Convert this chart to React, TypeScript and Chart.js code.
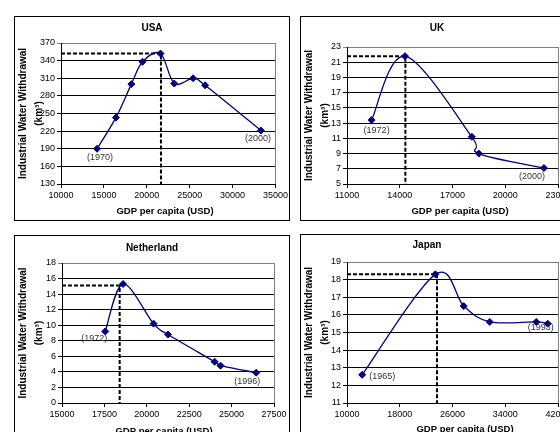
import React, { useEffect, useRef } from 'react';
import { Chart, registerables } from 'chart.js';
Chart.register(...registerables);

const FONT = '"Liberation Sans", Arial, Helvetica, sans-serif';

// ---- USA ----
const usaGdp = [14200, 16400, 18200, 19500, 21600, 23200, 25400, 26800, 33300];
const usaWater = [190, 243, 300, 338, 352, 301, 310, 298, 221];
const usaPeakGdp = 21650;
const usaPeakWater = 352;
const usaYears = ['(1970)', '(2000)'];
const usaXTicks = [10000, 15000, 20000, 25000, 30000, 35000];
const usaYTicks = [130, 160, 190, 220, 250, 280, 310, 340, 370];

// ---- UK ----
const ukGdp = [12400, 14300, 18100, 18500, 22200];
const ukWater = [13.4, 21.8, 11.2, 9.0, 7.1];
const ukPeakGdp = 14320;
const ukPeakWater = 21.8;
const ukYears = ['(1972)', '(2000)'];
const ukXTicks = [11000, 14000, 17000, 20000, 23000];
const ukYTicks = [5, 7, 9, 11, 13, 15, 17, 19, 21, 23];

// ---- Netherland ----
const nlGdp = [17550, 18600, 20400, 21250, 24000, 24350, 26450];
const nlWater = [9.2, 15.3, 10.2, 8.8, 5.3, 4.8, 3.9];
const nlPeakGdp = 18400;
const nlPeakWater = 15.1;
const nlYears = ['(1972)', '(1996)'];
const nlXTicks = [15000, 17500, 20000, 22500, 25000, 27500];
const nlYTicks = [0, 2, 4, 6, 8, 10, 12, 14, 16, 18];

// ---- Japan ----
const jpGdp = [12300, 23400, 27700, 31650, 38700, 40450];
const jpWater = [12.6, 18.3, 16.5, 15.6, 15.6, 15.5];
const jpPeakGdp = 23650;
const jpPeakWater = 18.3;
const jpYears = ['(1965)', '(1993)'];
const jpXTicks = [10000, 18000, 26000, 34000, 42000];
const jpYTicks = [11, 12, 13, 14, 15, 16, 17, 18, 19];

const Y_TITLE = 'Industrial Water Withdrawal';
const Y_UNIT = '(km³)';
const X_TITLE = 'GDP per capita (USD)';

type Spec = {
  title: string;
  left: number; top: number;
  yW: number; padTop: number; padRight: number; xH: number;
  titleX: number; titleY: number; xTitleX: number; xTitleY: number;
  gdp: number[]; water: number[]; peakGdp: number; peakWater: number;
  xTicks: number[]; yTicks: number[];
  labels: { i: number; text: string; dx: number; dy: number }[];
};

const W = 276;
const H = 205;

const specs: Spec[] = [
  {
    title: 'USA', left: 14, top: 16, yW: 47, padTop: 27, padRight: 14, xH: 37,
    titleX: 138, titleY: 12, xTitleX: 151, xTitleY: 195,
    gdp: usaGdp, water: usaWater, peakGdp: usaPeakGdp, peakWater: usaPeakWater,
    xTicks: usaXTicks, yTicks: usaYTicks,
    labels: [
      { i: 0, text: usaYears[0], dx: 3, dy: 9 },
      { i: usaGdp.length - 1, text: usaYears[1], dx: -3, dy: 8 },
    ],
  },
  {
    title: 'UK', left: 300, top: 16, yW: 47, padTop: 31, padRight: 18, xH: 37,
    titleX: 137, titleY: 12, xTitleX: 160, xTitleY: 195,
    gdp: ukGdp, water: ukWater, peakGdp: ukPeakGdp, peakWater: ukPeakWater,
    xTicks: ukXTicks, yTicks: ukYTicks,
    labels: [
      { i: 0, text: ukYears[0], dx: 5, dy: 10 },
      { i: ukGdp.length - 1, text: ukYears[1], dx: -12, dy: 8 },
    ],
  },
  {
    title: 'Netherland', left: 14, top: 235, yW: 48, padTop: 28, padRight: 16, xH: 37,
    titleX: 138, titleY: 13, xTitleX: 150, xTitleY: 196,
    gdp: nlGdp, water: nlWater, peakGdp: nlPeakGdp, peakWater: nlPeakWater,
    xTicks: nlXTicks, yTicks: nlYTicks,
    labels: [
      { i: 0, text: nlYears[0], dx: -11, dy: 7 },
      { i: nlGdp.length - 1, text: nlYears[1], dx: -9, dy: 9 },
    ],
  },
  {
    title: 'Japan', left: 300, top: 234, yW: 47, padTop: 28, padRight: 18, xH: 36,
    titleX: 127, titleY: 11, xTitleX: 165, xTitleY: 195,
    gdp: jpGdp, water: jpWater, peakGdp: jpPeakGdp, peakWater: jpPeakWater,
    xTicks: jpXTicks, yTicks: jpYTicks,
    labels: [
      { i: 0, text: jpYears[0], dx: 20, dy: 2 },
      { i: jpGdp.length - 1, text: jpYears[1], dx: -7, dy: 4 },
    ],
  },
];

function buildConfig(spec: Spec): any {
  const xMin = spec.xTicks[0];
  const xMax = spec.xTicks[spec.xTicks.length - 1];
  const yMin = spec.yTicks[0];
  const yMax = spec.yTicks[spec.yTicks.length - 1];

  const decor = {
    id: 'decor',
    beforeDatasetsDraw(chart: any) {
      const { ctx, chartArea: a } = chart;
      ctx.save();
      ctx.strokeStyle = '#808080';
      ctx.lineWidth = 1;
      ctx.beginPath();
      const r = Math.round(a.right) + 0.5;
      ctx.moveTo(r, Math.round(a.top));
      ctx.lineTo(r, Math.round(a.bottom));
      ctx.stroke();
      ctx.restore();
    },
    beforeDatasetDraw(chart: any, args: any) {
      // Excel-style smoothing: control points at (next - prev) / 6
      if (args.index !== 0) return;
      const meta = chart.getDatasetMeta(0);
      const line = meta.dataset;
      if (line && line.updateControlPoints) line.updateControlPoints(chart.chartArea, 'x');
      const pts = meta.data;
      for (let i = 0; i < pts.length; i++) {
        const p = pts[i];
        const prev = pts[i - 1] || p;
        const next = pts[i + 1] || p;
        const dx = (next.x - prev.x) / 6;
        const dy = (next.y - prev.y) / 6;
        p.cp1x = p.x - dx;
        p.cp1y = p.y - dy;
        p.cp2x = p.x + dx;
        p.cp2y = p.y + dy;
      }
      if (line) delete line._path;
    },
    afterDraw(chart: any) {
      const { ctx, chartArea: a } = chart;
      ctx.save();
      // frame
      ctx.strokeStyle = '#000';
      ctx.lineWidth = 1;
      ctx.strokeRect(0.5, 0.5, W - 1, H - 1);
      // title
      ctx.fillStyle = '#000';
      ctx.textAlign = 'center';
      ctx.textBaseline = 'middle';
      ctx.font = `bold 10px ${FONT}`;
      ctx.fillText(spec.title, spec.titleX, spec.titleY);
      // x title
      ctx.font = `bold 9.5px ${FONT}`;
      ctx.fillText(X_TITLE, spec.xTitleX, spec.xTitleY);
      // y title
      const cy = (a.top + a.bottom) / 2;
      ctx.font = `bold 10px ${FONT}`;
      ctx.save();
      ctx.translate(9, cy);
      ctx.rotate(-Math.PI / 2);
      ctx.fillText(Y_TITLE, 0, 0);
      ctx.restore();
      ctx.save();
      ctx.translate(25, cy);
      ctx.rotate(-Math.PI / 2);
      ctx.fillText(Y_UNIT, 0, 0);
      ctx.restore();
      // year labels
      const meta = chart.getDatasetMeta(0);
      ctx.font = `9px ${FONT}`;
      ctx.fillStyle = '#333';
      for (const l of spec.labels) {
        const p = meta.data[l.i];
        ctx.fillText(l.text, p.x + l.dx, p.y + l.dy);
      }
      ctx.restore();
    },
  };

  return {
    type: 'scatter',
    data: {
      datasets: [
        {
          data: spec.gdp.map((x, i) => ({ x, y: spec.water[i] })),
          showLine: true,
          borderColor: '#000080',
          backgroundColor: '#000080',
          borderWidth: 1.3,
          tension: 0.4,
          pointStyle: 'rectRot',
          pointRadius: 3.5,
          pointBorderWidth: 1,
          pointBorderColor: '#000080',
          pointBackgroundColor: '#000080',
        },
        {
          data: [
            { x: xMin, y: spec.peakWater },
            { x: spec.peakGdp, y: spec.peakWater },
            { x: spec.peakGdp, y: yMin },
          ],
          showLine: true,
          borderColor: '#000',
          borderWidth: 2,
          borderDash: [4, 2],
          pointRadius: 0,
          tension: 0,
        },
      ],
    },
    options: {
      responsive: false,
      maintainAspectRatio: false,
      animation: false,
      events: [],
      layout: { padding: { top: spec.padTop, right: spec.padRight, left: 0, bottom: 0 } },
      plugins: {
        legend: { display: false },
        title: { display: false },
        tooltip: { enabled: false },
      },
      scales: {
        x: {
          type: 'linear',
          position: 'bottom',
          min: xMin,
          max: xMax,
          afterBuildTicks: (s: any) => {
            s.ticks = spec.xTicks.map((v) => ({ value: v }));
          },
          afterFit: (s: any) => {
            s.height = spec.xH;
          },
          ticks: {
            callback: (v: any) => String(v),
            font: { family: FONT, size: 9 },
            color: '#000',
            maxRotation: 0,
            autoSkip: false,
            padding: 2,
          },
          grid: { drawOnChartArea: false, drawTicks: true, tickLength: 4, color: '#000' },
          border: { color: '#000', width: 1 },
        },
        y: {
          type: 'linear',
          min: yMin,
          max: yMax,
          afterBuildTicks: (s: any) => {
            s.ticks = spec.yTicks.map((v) => ({ value: v }));
          },
          afterFit: (s: any) => {
            s.width = spec.yW;
          },
          ticks: {
            callback: (v: any) => String(v),
            font: { family: FONT, size: 9 },
            color: '#000',
            padding: 2,
          },
          grid: {
            drawTicks: true,
            tickLength: 4,
            color: (c: any) => (c.tick && c.tick.value === yMax ? '#808080' : '#000'),
          },
          border: { color: '#000', width: 1 },
        },
      },
    },
    plugins: [decor],
  };
}

function Panel({ spec }: { spec: Spec }) {
  const ref = useRef<HTMLCanvasElement>(null);
  useEffect(() => {
    const chart = new Chart(ref.current as HTMLCanvasElement, buildConfig(spec));
    return () => chart.destroy();
  }, [spec]);
  return (
    <canvas
      ref={ref}
      width={W}
      height={H}
      style={{ position: 'absolute', left: spec.left, top: spec.top, width: W, height: H }}
    />
  );
}

export default function App() {
  return (
    <div
      style={{
        position: 'fixed',
        left: 0,
        top: 0,
        width: 560,
        height: 432,
        overflow: 'hidden',
        background: '#fff',
      }}
    >
      {specs.map((s) => (
        <Panel key={s.title} spec={s} />
      ))}
    </div>
  );
}
